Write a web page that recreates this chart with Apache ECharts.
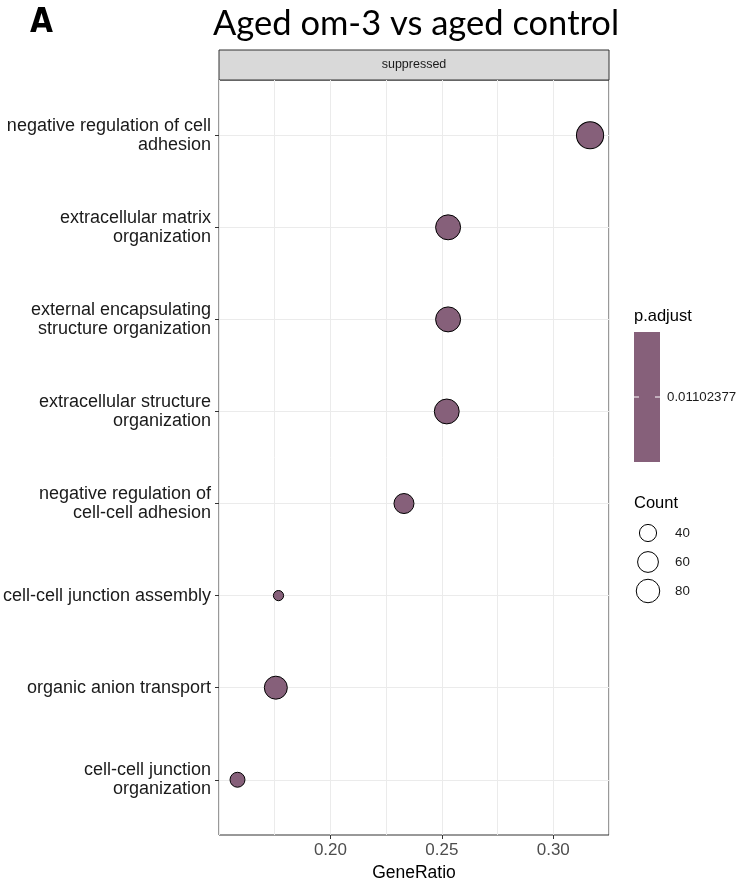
<!DOCTYPE html>
<html>
<head>
<meta charset="utf-8">
<title>Aged om-3 vs aged control</title>
<script src="https://cdn.jsdelivr.net/npm/echarts@6/dist/echarts.min.js"></script>
<style>
  html, body { margin: 0; padding: 0; background: #fff; }
  #chart { width: 740px; height: 879px; }
</style>
</head>
<body>
<div id="chart"></div>
<script>
// ===== data =====
const categories = [
  "negative regulation of cell adhesion",
  "extracellular matrix organization",
  "external encapsulating structure organization",
  "extracellular structure organization",
  "negative regulation of cell-cell adhesion",
  "cell-cell junction assembly",
  "organic anion transport",
  "cell-cell junction organization"
];
const geneRatio = [0.3165, 0.2528, 0.2528, 0.2522, 0.2330, 0.1767, 0.1755, 0.1583];
const counts = [115, 93, 93, 92, 55, 25, 76, 32];
const pAdjust = 0.01102377;
const countBreaks = [40, 60, 80];
const xTicks = [0.20, 0.25, 0.30];

const DOT_COLOR = "#86607a";
const FONT = "'Liberation Sans', Arial, sans-serif";

// ggplot-like area scale: range c(3, 8) -> px diameter
const cMin = Math.min(...counts);
const cMax = Math.max(...counts);
const sizeOf = (c) => {
  const t = Math.max(0, (c - cMin) / (cMax - cMin));
  return 10.2 + 17 * Math.sqrt(t);
};

// str_wrap like enrichplot label_format = 30
const wrap = (s, width = 30) => {
  const words = s.split(" ");
  const lines = [];
  let cur = "";
  words.forEach((w) => {
    if (cur && (cur + " " + w).length > width) {
      lines.push(cur);
      cur = w;
    } else {
      cur = cur ? cur + " " + w : w;
    }
  });
  if (cur) lines.push(cur);
  return lines.join("\n");
};

const yIdx = categories.map((_, i) => i + 1);
const points = categories.map((name, i) => [geneRatio[i], yIdx[i], counts[i], name]);

const chart = echarts.init(document.getElementById("chart"));

// strip, tag and legends drawn as graphics
const legendGraphics = [
  // facet strip
  {
    type: "rect",
    shape: { x: 219, y: 50, width: 390, height: 30 },
    style: { fill: "#d9d9d9", stroke: "#333", lineWidth: 1 }
  },
  {
    type: "text",
    x: 414, y: 65,
    style: { text: "suppressed", font: "12.5px " + FONT, fill: "#1a1a1a", textAlign: "center", textVerticalAlign: "middle" }
  },
  // panel tag
  {
    type: "text",
    x: 30, y: 7,
    style: { text: "A", font: "bold 33px 'Liberation Sans Narrow', 'DejaVu Sans Condensed', sans-serif", fill: "#000" }
  },
  // p.adjust colourbar
  {
    type: "text",
    x: 634, y: 316,
    style: { text: "p.adjust", font: "16.5px " + FONT, fill: "#000", textVerticalAlign: "middle" }
  },
  {
    type: "rect",
    shape: { x: 634, y: 332, width: 26, height: 130 },
    style: { fill: DOT_COLOR }
  },
  {
    type: "line",
    shape: { x1: 634, y1: 397, x2: 639, y2: 397 },
    style: { stroke: "#fff", lineWidth: 1 }
  },
  {
    type: "line",
    shape: { x1: 655, y1: 397, x2: 660, y2: 397 },
    style: { stroke: "#fff", lineWidth: 1 }
  },
  {
    type: "text",
    x: 667, y: 397,
    style: { text: String(pAdjust), font: "13.3px " + FONT, fill: "#1a1a1a", textVerticalAlign: "middle" }
  },
  // Count size legend
  {
    type: "text",
    x: 634, y: 503,
    style: { text: "Count", font: "16.5px " + FONT, fill: "#000", textVerticalAlign: "middle" }
  }
];

const legendY = [533, 562, 591];
countBreaks.forEach((c, i) => {
  legendGraphics.push({
    type: "circle",
    shape: { cx: 648, cy: legendY[i], r: sizeOf(c) / 2 },
    style: { fill: "#fff", stroke: "#000", lineWidth: 1 }
  });
  legendGraphics.push({
    type: "text",
    x: 675, y: legendY[i],
    style: { text: String(c), font: "13.3px " + FONT, fill: "#1a1a1a", textVerticalAlign: "middle" }
  });
});

const option = {
  animation: false,
  backgroundColor: "#fff",
  title: {
    text: "Aged om-3 vs aged control",
    left: 208,
    top: 1,
    textStyle: { fontFamily: "Lato, 'Open Sans', sans-serif", fontSize: 34.5, fontWeight: "normal", color: "#000" }
  },
  grid: {
    left: 219,
    width: 390,
    top: 80,
    height: 755,
    outerBoundsMode: "none",
    containLabel: false,
    show: true,
    borderColor: "#333",
    borderWidth: 1,
    backgroundColor: "transparent"
  },
  xAxis: [
    {
      type: "value",
      min: 0.15,
      max: 0.325,
      name: "GeneRatio",
      nameLocation: "middle",
      nameGap: 27,
      nameTextStyle: { fontFamily: FONT, fontSize: 17.5, color: "#000" },
      axisLine: { show: false },
      axisTick: { show: true, customValues: xTicks, length: 4, lineStyle: { color: "#333" } },
      axisLabel: {
        customValues: xTicks,
        formatter: (v) => v.toFixed(2),
        fontFamily: FONT,
        fontSize: 17,
        color: "#4d4d4d",
        margin: 7
      },
      splitLine: { show: false }
    },
    {
      // grid lines every 0.025 (major + minor)
      type: "value",
      min: 0.15,
      max: 0.325,
      interval: 0.025,
      axisLine: { show: false },
      axisTick: { show: false },
      axisLabel: { show: false },
      splitLine: { show: true, lineStyle: { color: "#ebebeb", width: 1 } }
    }
  ],
  yAxis: {
    type: "value",
    inverse: true,
    min: 0.4,
    max: 8.6,
    minInterval: 1,
    maxInterval: 1,
    axisLine: { show: false },
    axisTick: { show: true, customValues: yIdx, length: 4, lineStyle: { color: "#333" } },
    axisLabel: {
      customValues: yIdx,
      formatter: (v) => (Number.isInteger(v) ? wrap(categories[v - 1]) : ""),
      fontFamily: FONT,
      fontSize: 18,
      lineHeight: 19,
      color: "#1a1a1a",
      align: "right",
      margin: 8
    },
    splitLine: { show: true, lineStyle: { color: "#ebebeb", width: 1 } }
  },
  series: [
    {
      type: "scatter",
      xAxisIndex: 0,
      data: points,
      symbol: "circle",
      symbolSize: (d) => sizeOf(d[2]),
      itemStyle: { color: DOT_COLOR, borderColor: "#000", borderWidth: 1, opacity: 1 },
      z: 5
    }
  ],
  graphic: legendGraphics
};

chart.setOption(option);
</script>
</body>
</html>
